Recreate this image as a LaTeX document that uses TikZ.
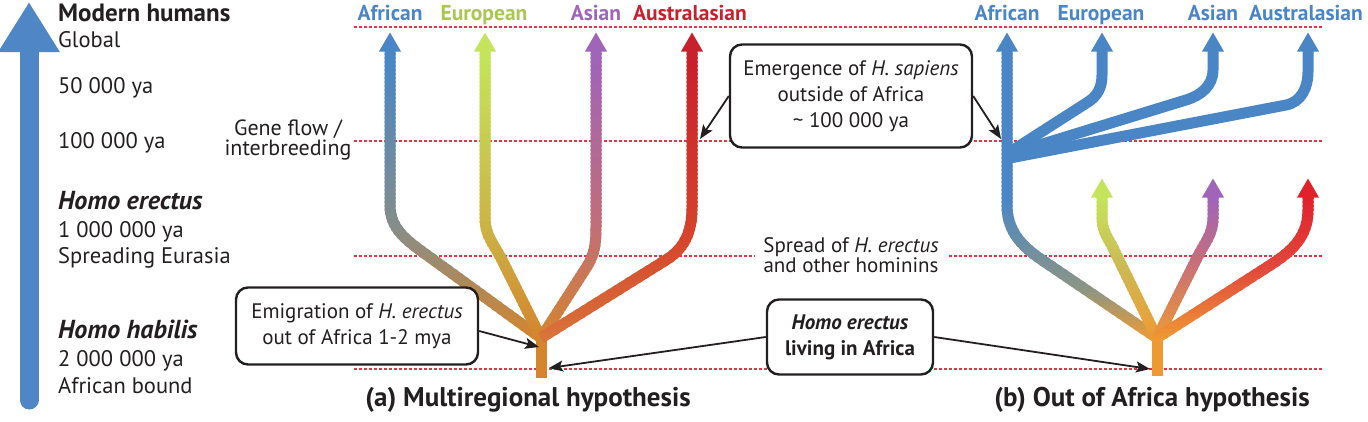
\documentclass[tikz,border=0pt]{standalone}
\usepackage{fontspec}
\setmainfont{PT Sans}
\usetikzlibrary{arrows.meta}

\definecolor{inkgray}{HTML}{231F20}
\definecolor{axisblue}{HTML}{4F87C6}
\definecolor{afblue}{HTML}{4A86C6}
\definecolor{eugreen}{HTML}{C5E35C}
\definecolor{eulabel}{HTML}{A9C752}
\definecolor{asviolet}{HTML}{A064B8}
\definecolor{auredL}{HTML}{C8202C}
\definecolor{auredR}{HTML}{E2222B}
\definecolor{orangeL}{HTML}{D4852E}
\definecolor{orangeR}{HTML}{EE9A34}
\definecolor{guidered}{HTML}{E63347}
% mid tones of the branches
\definecolor{afmidL}{HTML}{858D8A}
\definecolor{eumidL}{HTML}{CBB446}
\definecolor{asmidL}{HTML}{C06E78}
\definecolor{aumidL}{HTML}{D5452C}
\definecolor{aubotL}{HTML}{D8743A}
\definecolor{afmidR}{HTML}{8D9584}
\definecolor{eumidR}{HTML}{CCBB55}
\definecolor{asmidR}{HTML}{C87078}
\definecolor{aumidR}{HTML}{E2483C}

\newcommand\colfont{\fontsize{22.5}{26}\selectfont}
\newcommand\headfont{\fontsize{25}{26}\selectfont\bfseries}
\newcommand\specfont{\fontsize{26}{26}\selectfont\bfseries\itshape}
\newcommand\callfont{\fontsize{21}{26}\selectfont}
\newcommand\popfont{\fontsize{21}{26}\selectfont\bfseries}
\newcommand\capfont{\fontsize{27}{28}\selectfont\bfseries}

% branch with a vertical colour gradient: path, top, mid, bottom colour, y of top, mid, bottom
\newcommand\gradstem[7]{%
  \foreach \yb in {26,30,...,382}{%
    \pgfmathtruncatemacro\pa{max(0,min(100,(\yb+2-#5)/(#6-#5)*100))}%
    \pgfmathtruncatemacro\pb{max(0,min(100,(\yb+2-#6)/(#7-#6)*100))}%
    \colorlet{bandA}{#3!\pa!#2}%
    \colorlet{bandB}{#4!\pb!bandA}%
    \begin{scope}
      \clip (300,0.6-\yb) rectangle (1368,-4.6-\yb);
      \draw[stem, draw=bandB] #1;
    \end{scope}
  }%
}
% arrow head on top of a branch: base centre, colour
\newcommand\stemhead[2]{\fill[#2] #1 ++(-11,0.5) -- ++(22,0) -- ++(-11,19) -- cycle;}

\begin{document}
\begin{tikzpicture}[
x=1pt, y=1pt,
stem/.style={line width=11pt},
timeline/.style={draw=axisblue, line width=19pt, line cap=round,
-{Triangle[length=50pt, width=58pt]}},
guide/.style={draw=guidered, line width=1.8pt, dash pattern=on 2.5pt off 2.5pt},
callout/.style={draw=inkgray, line width=2.4pt, rounded corners=12pt,
fill=white, align=center, inner sep=0pt, text=inkgray},
pointer/.style={draw=inkgray, line width=1.8pt, -{Stealth[length=14pt, width=11pt, inset=3pt]}},
coltext/.style={anchor=base west, inner sep=0pt, font=\colfont, text=inkgray},
colhead/.style={anchor=base west, inner sep=0pt, font=\headfont, text=inkgray},
colspec/.style={anchor=base west, inner sep=0pt, font=\specfont, text=inkgray},
tag/.style={anchor=base, inner sep=0pt, font=\fontsize{21.5}{24}\selectfont\bfseries},
note/.style={align=center, inner sep=0pt, font=\fontsize{21}{20}\selectfont, text=inkgray},
caption/.style={anchor=base, inner sep=0pt, font=\capfont, text=inkgray}
]
\useasboundingbox (0,0) rectangle (1368,-421);

% time axis
\coordinate (axisbot) at (29,-400);
\coordinate (axistop) at (29,-2);
\draw[timeline] (axisbot) -- (axistop);

\node[colhead] (modern) at (58,-21) {Modern humans};
\node[coltext] (global) at (58,-47) {Global};
\node[coltext] (ya50k) at (58,-93) {50 000 ya};
\node[coltext] (ya100k) at (58,-148) {100 000 ya};
\node[colspec] (erectus) at (58,-209) {Homo erectus};
\node[coltext] (ya1m) at (58,-237) {1 000 000 ya};
\node[coltext] (eurasia) at (58,-263) {Spreading Eurasia};
\node[colspec] (habilis) at (58,-338) {Homo habilis};
\node[coltext] (ya2m) at (58,-366) {2 000 000 ya};
\node[coltext] (bound) at (58,-393) {African bound};

% time levels
\draw[guide] (354,-27) -- (1322,-27);
\draw[guide] (354,-141) -- (1322,-141);
\draw[guide] (354,-256) -- (1322,-256);
\draw[guide] (354,-369) -- (1322,-369);

% (a) multiregional tree
\coordinate (ja) at (541,-338);
\draw[line width=11pt, draw=orangeL] (541,-330) -- (541,-378);
\gradstem{(ja) -- (424,-253) to[out=144,in=-90] (390,-205) -- (390,-51)}
  {afblue}{afmidL}{orangeL}{60}{225}{338}
\gradstem{(ja) -- (502,-260) to[out=116.6,in=-90] (485,-218) -- (485,-51)}
  {eugreen}{eumidL}{orangeL}{60}{225}{338}
\gradstem{(ja) -- (586,-268) to[out=57,in=-90] (596,-225) -- (596,-51)}
  {asviolet}{asmidL}{orangeL}{60}{225}{338}
\gradstem{(ja) -- (666,-260) to[out=32,in=-90] (692,-208) -- (692,-51)}
  {auredL}{aumidL}{aubotL}{60}{240}{338}
\stemhead{(390,-52)}{afblue}
\stemhead{(485,-52)}{eugreen}
\stemhead{(596,-52)}{asviolet}
\stemhead{(692,-52)}{auredL}

% (b) out of Africa tree
\coordinate (jb) at (1157,-338);
\coordinate (kb) at (1010,-154);
\draw[line width=11pt, draw=orangeR] (1157,-330) -- (1157,-376);
\gradstem{(jb) -- (1042,-260) to[out=146,in=-90] (1007,-205) -- (1007,-51)}
  {afblue}{afmidR}{orangeR}{200}{290}{340}
\gradstem{(jb) -- (1116,-254) to[out=113,in=-90] (1102,-218) -- (1102,-197)}
  {eugreen}{eumidR}{orangeR}{200}{265}{340}
\gradstem{(jb) -- (1198,-256) to[out=63,in=-90] (1213,-218) -- (1213,-197)}
  {asviolet}{asmidR}{orangeR}{200}{265}{340}
\gradstem{(jb) -- (1272,-264) to[out=33,in=-90] (1308,-210) -- (1308,-197)}
  {auredR}{aumidR}{orangeR}{200}{270}{340}
\draw[stem, draw=afblue] ([yshift=2pt]kb) -- (1088,-102) to[out=33,in=-90] (1102,-75) -- (1102,-51);
\draw[stem, draw=afblue] (kb) -- (1186,-100) to[out=17,in=-90] (1213,-70) -- (1213,-51);
\draw[stem, draw=afblue] ([yshift=-4pt]kb) -- (1286,-105) to[out=11,in=-90] (1308,-72) -- (1308,-51);
\stemhead{(1007,-52)}{afblue}
\stemhead{(1102,-52)}{afblue}
\stemhead{(1213,-52)}{afblue}
\stemhead{(1308,-52)}{afblue}
\stemhead{(1102,-198)}{eugreen}
\stemhead{(1213,-198)}{asviolet}
\stemhead{(1308,-198)}{auredR}

% population labels
\node[tag, text=afblue] (afA) at (390,-20) {African};
\node[tag, text=eulabel] (euA) at (484,-20) {European};
\node[tag, text=asviolet] (asA) at (596,-20) {Asian};
\node[tag, text=auredL] (auA) at (690,-20) {Australasian};
\node[tag, text=afblue] (afB) at (1007,-20) {African};
\node[tag, text=afblue] (euB) at (1101,-20) {European};
\node[tag, text=afblue] (asB) at (1213,-20) {Asian};
\node[tag, text=afblue] (auB) at (1306,-20) {Australasian};

% notes and callouts
\node[note, font=\fontsize{22}{20}\selectfont] (geneflow) at (288,-140) {Gene flow /\\interbreeding};
\node[note, fill=white, inner xsep=8pt, inner ysep=2pt] (hominins) at (851,-255)
  {Spread of \textit{H. erectus}\\and other hominins};

\node[callout, minimum width=242pt, minimum height=103pt, font=\callfont] (emerge) at (851,-96)
  {Emergence of \textit{H. sapiens}\\outside of Africa\\\textasciitilde\ 100 000 ya};
\node[callout, minimum width=242pt, minimum height=77pt, font=\callfont] (emigrate) at (357,-326)
  {Emigration of \textit{H. erectus}\\out of Africa 1-2 mya};
\node[callout, minimum width=166pt, minimum height=75pt, font=\popfont] (living) at (850,-337)
  {\textit{Homo erectus}\\living in Africa};

\coordinate (emergeA) at (700,-139);
\coordinate (emergeB) at (1001,-139);
\coordinate (emigTip) at (539,-347);
\coordinate (livA) at (549,-368);
\coordinate (livB) at (1150,-369);
\draw[pointer] (emerge.west) -- (emergeA);
\draw[pointer] (emerge.east) -- (emergeB);
\draw[pointer] ([yshift=-5pt]emigrate.east) -- (emigTip);
\draw[pointer] (living.west) -- (livA);
\draw[pointer] (living.east) -- (livB);

\node[caption] (capA) at (528,-406) {(a) Multiregional hypothesis};
\node[caption] (capB) at (1152,-406) {(b) Out of Africa hypothesis};
\end{tikzpicture}
\end{document}
